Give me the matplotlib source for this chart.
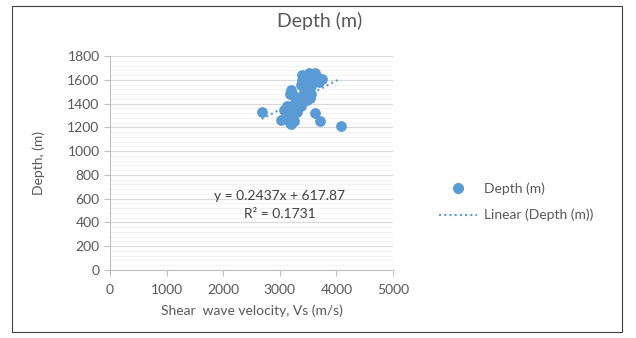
import numpy as np
import matplotlib.pyplot as plt
from matplotlib.patches import Rectangle
from matplotlib.lines import Line2D

plt.rcParams['font.family'] = ['Lato', 'DejaVu Sans']

# shear wave velocity (m/s) and depth (m)
vs = [2680, 3030, 3080, 3120, 3150, 3180, 3200, 3210, 3230, 3250,
      3270, 3290, 3180, 3200, 3230, 3300, 3330, 3350, 3380, 3400,
      3420, 3380, 3400, 3390, 3450, 3470, 3500, 3520, 3540, 3560,
      3580, 3600, 3620, 3650, 3700, 3740, 3560, 3480, 3620, 3710,
      4075, 3300, 3250, 3440, 3520]
depth = [1330, 1265, 1350, 1380, 1300, 1240, 1230, 1280, 1320, 1250,
         1350, 1420, 1480, 1510, 1470, 1390, 1440, 1400, 1380, 1460,
         1500, 1560, 1600, 1640, 1540, 1580, 1620, 1500, 1450, 1550,
         1600, 1650, 1660, 1620, 1580, 1610, 1480, 1430, 1322, 1252,
         1210, 1330, 1400, 1620, 1660]

slope = 0.2437
intercept = 617.87
r2 = 0.1731

blue = '#5B9BD5'
grey = '#595959'

fig = plt.figure(figsize=(6.36, 3.38), dpi=100)
fig.patches.append(Rectangle((12 / 636, 6 / 338), 610 / 636, 326 / 338,
                             transform=fig.transFigure, fill=False,
                             edgecolor='#404040', linewidth=0.8))

ax = fig.add_axes([110 / 636, 68 / 338, 283 / 636, 214 / 338])
ax.scatter(vs, depth, s=60, color=blue, zorder=3, linewidths=0)

xs = np.array([min(vs), max(vs)])
ax.plot(xs, slope * xs + intercept, linestyle=(0, (1, 1.5)), color=blue,
        linewidth=1.5, zorder=4)

ax.set_xlim(0, 5000)
ax.set_ylim(0, 1800)
ax.set_xticks(range(0, 5001, 1000))
ax.set_yticks(range(0, 1801, 200))
ax.set_yticks(range(0, 1801, 40), minor=True)
ax.grid(axis='y', which='major', color='#D9D9D9', linewidth=0.8)
ax.grid(axis='y', which='minor', color='#F0F0F0', linewidth=0.6)
ax.set_axisbelow(True)

for side in ['top', 'right']:
    ax.spines[side].set_visible(False)
for side in ['left', 'bottom']:
    ax.spines[side].set_color('#BFBFBF')
ax.tick_params(which='major', length=4, color='#BFBFBF', labelcolor=grey,
               labelsize=10)
ax.tick_params(axis='y', which='minor', length=0)
ax.tick_params(axis='x', pad=6)

ax.set_xlabel('Shear  wave velocity, Vs (m/s)', color=grey, fontsize=10,
              labelpad=6)
ax.set_ylabel('Depth, (m)', color=grey, fontsize=10, labelpad=16)

ax.text(3000, 620, f'y = {slope}x + {intercept}', color='#404040',
        fontsize=10, ha='center', va='center')
ax.text(3000, 470, f'R² = {r2}', color='#404040', fontsize=10,
        ha='center', va='center')

fig.text(320 / 636, 1 - 21 / 338, 'Depth (m)', ha='center', va='center',
         fontsize=14, color=grey)

handles = [Line2D([], [], marker='o', linestyle='none', color=blue,
                  markersize=7),
           Line2D([], [], linestyle=(0, (1, 1.5)), color=blue, linewidth=1.5)]
fig.legend(handles, ['Depth (m)', 'Linear (Depth (m))'],
           loc='center left', bbox_to_anchor=(426 / 636, 1 - 202 / 338),
           frameon=False, fontsize=10, labelcolor=grey, handlelength=2.8,
           handletextpad=0.5, labelspacing=1.0)

fig.savefig('out.png', dpi=100)
